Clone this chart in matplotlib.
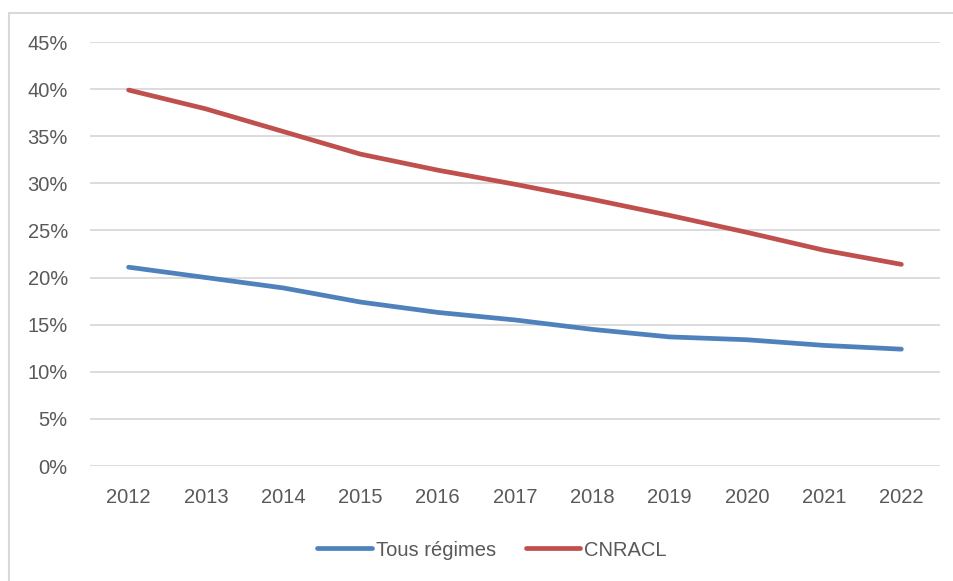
import numpy as np
import matplotlib.pyplot as plt
from matplotlib.patches import Rectangle

years = ['2012', '2013', '2014', '2015', '2016', '2017', '2018', '2019', '2020', '2021', '2022']
tous_regimes = [21.1, 20.0, 18.9, 17.4, 16.3, 15.5, 14.5, 13.7, 13.4, 12.8, 12.4]
cnracl = [39.9, 37.9, 35.5, 33.1, 31.4, 29.9, 28.3, 26.6, 24.8, 22.9, 21.4]
yticks = [0, 5, 10, 15, 20, 25, 30, 35, 40, 45]

plt.rcParams['font.family'] = ['Liberation Sans', 'DejaVu Sans']
txt = '#595959'
grid = '#D9D9D9'
fsize = 14.5

fig = plt.figure(figsize=(9.54, 5.81), dpi=100)
ax = fig.add_axes([90 / 954, 1 - 466 / 581, 850 / 954, 424 / 581])

x = np.arange(len(years))
ax.plot(x, tous_regimes, color='#4F81BD', lw=3.4, solid_capstyle='round', solid_joinstyle='round', label='Tous régimes')
ax.plot(x, cnracl, color='#C0504D', lw=3.4, solid_capstyle='round', solid_joinstyle='round', label='CNRACL')

ax.set_xlim(-0.5, len(years) - 0.5)
ax.set_ylim(0, 45)
ax.set_xticks(x)
ax.set_xticklabels(years)
ax.set_yticks(yticks)
ax.set_yticklabels([f"{v}%" for v in yticks])
ax.tick_params(axis='both', length=0, labelsize=fsize, labelcolor=txt)
ax.tick_params(axis='y', pad=16)
ax.tick_params(axis='x', pad=16)
ax.grid(axis='y', color=grid, lw=1.3)
ax.set_axisbelow(True)
for s in ax.spines.values():
    s.set_visible(False)

leg = fig.legend(loc='center', bbox_to_anchor=(492 / 954, 1 - 550 / 581), ncol=2, frameon=False,
                 fontsize=fsize, handlelength=2.7, handletextpad=0.2, columnspacing=1.5)
for t in leg.get_texts():
    t.set_color(txt)

# outer chart frame (cut at right and bottom)
fig.patches.append(Rectangle((9 / 954, -0.1), 1.1, 1 - 13 / 581 + 0.1, transform=fig.transFigure,
                             fill=False, edgecolor=grid, lw=1.5))

fig.savefig('out.png', dpi=100)
